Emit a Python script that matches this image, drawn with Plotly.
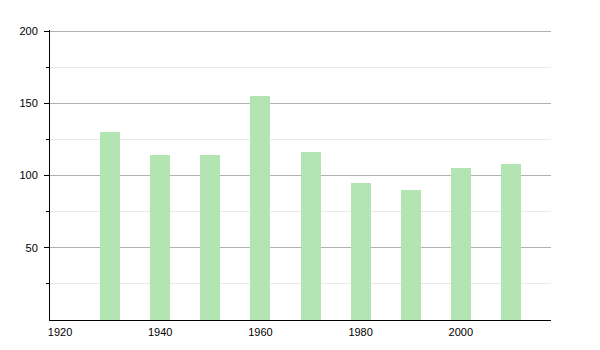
import plotly.graph_objects as go

years = [1930, 1940, 1950, 1960, 1970, 1980, 1990, 2000, 2010]
values = [130, 114, 114, 155, 116, 95, 90, 105, 108]

fig = go.Figure()
fig.add_trace(go.Bar(x=years, y=values, width=4, marker=dict(color="#b3e5b3", line=dict(width=0))))

fig.update_layout(
    width=600, height=350,
    margin=dict(l=50, r=49, t=30, b=30),
    paper_bgcolor="white", plot_bgcolor="white",
    font=dict(family="Liberation Sans, Arial, sans-serif", size=11, color="black"),
    showlegend=False,
    bargap=0,
)
fig.update_xaxes(
    range=[1918, 2018], tickmode="linear", tick0=1920, dtick=20,
    showgrid=False, zeroline=False, showline=True, linecolor="black", linewidth=1,
    ticks="", ticklabelstandoff=2,
)
fig.update_yaxes(
    range=[0, 200.8], tickmode="array", tickvals=[50, 100, 150, 200],
    showgrid=True, gridcolor="#b0b0b0", gridwidth=1, zeroline=False,
    showline=True, linecolor="black", linewidth=1,
    ticks="outside", ticklen=5, tickcolor="black", ticklabelstandoff=4,
    minor=dict(tickvals=[25, 75, 125, 175], showgrid=True, gridcolor="#e8e8e8",
               ticks="outside", ticklen=3, tickcolor="black"),
)

fig.write_html("out.html")
